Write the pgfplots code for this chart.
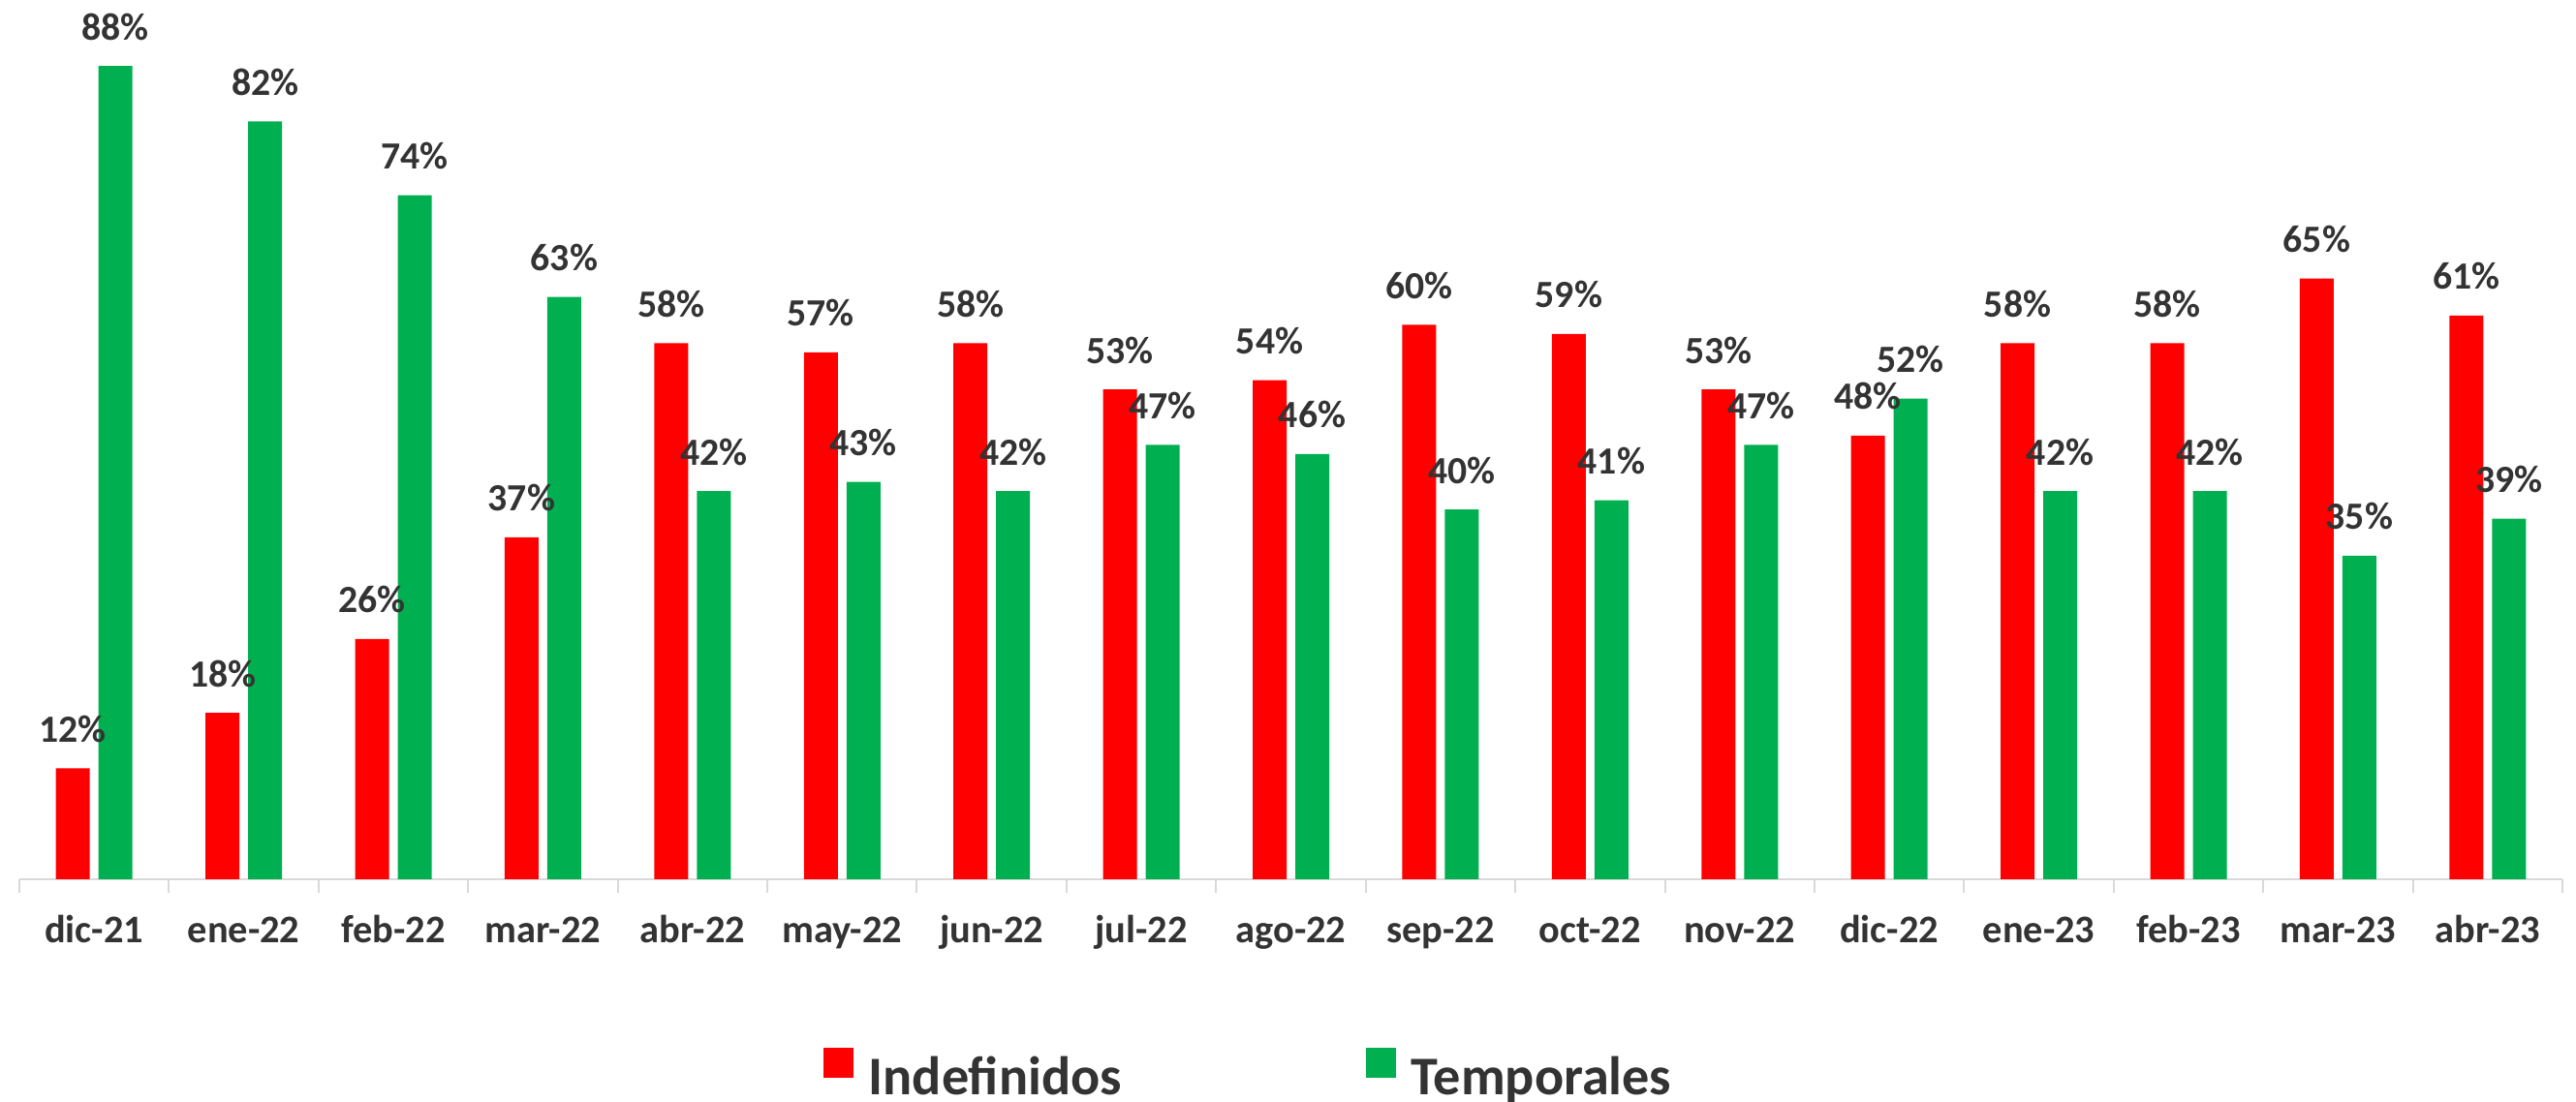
\documentclass[border=0pt]{standalone}
\usepackage{pgfplots}
\pgfplotsset{compat=1.18}
\usepackage{fontspec}
\setmainfont{Carlito}
\definecolor{myred}{HTML}{FF0000}
\definecolor{mygreen}{HTML}{00B050}
\definecolor{txt}{HTML}{333333}
\definecolor{axgray}{HTML}{D9D9D9}
\begin{document}
\begin{tikzpicture}
\begin{axis}[
  at={(0mm,0mm)}, anchor=south west,
  scale only axis, width=262.5mm, height=90.68mm,
  xmin=-0.5, xmax=16.5, ymin=0, ymax=95,
  clip=false,
  axis x line*=bottom, axis y line=none,
  x axis line style={draw=axgray, line width=0.2mm, -},
  ytick=\empty,
  xtick={0,...,16},
  xticklabels={dic-21,ene-22,feb-22,mar-22,abr-22,may-22,jun-22,jul-22,ago-22,sep-22,oct-22,nov-22,dic-22,ene-23,feb-23,mar-23,abr-23},
  major tick length=0pt,
  minor xtick={-0.5,0.5,...,16.5},
  minor tick length=1.4mm,
  tick align=outside,
  minor x tick style={draw=axgray, line width=0.2mm},
  xticklabel style={font=\fontsize{11.5}{13}\selectfont\bfseries, text=txt, anchor=base, yshift=-6.6mm},
  /pgf/number format/assume math mode=true,
  nodes near coords={\pgfmathprintnumber{\pgfplotspointmeta}\%},
  nodes near coords style={font=\fontsize{11.3}{13}\selectfont\bfseries, text=txt, anchor=base, yshift=2.7mm},
  legend columns=2,
  legend cell align=left,
  legend style={at={(0.3158,-0.2215)}, anchor=west, draw=none, fill=none, inner sep=0pt,
    nodes={inner sep=0pt, text=txt, font=\fontsize{16}{19}\selectfont\bfseries},
    /tikz/every odd column/.append style={column sep=1.6mm},
    /tikz/every even column/.append style={column sep=25.2mm}},
  legend image code/.code={\fill[#1] (0mm,0mm) rectangle (3.1mm,3.1mm);},
]
\addplot[ybar, bar width=3.5mm, bar shift=-2.2mm, fill=myred, draw=none,
  every node near coord/.append style={xshift=-2.2mm}] coordinates {
  (0,12) (1,18) (2,26) (3,37) (4,58) (5,57) (6,58) (7,53) (8,54) (9,60) (10,59) (11,53) (12,48) (13,58) (14,58) (15,65) (16,61)};
\addlegendentry{Indefinidos}
\addplot[ybar, bar width=3.5mm, bar shift=2.2mm, fill=mygreen, draw=none,
  every node near coord/.append style={xshift=2.2mm}] coordinates {
  (0,88) (1,82) (2,74) (3,63) (4,42) (5,43) (6,42) (7,47) (8,46) (9,40) (10,41) (11,47) (12,52) (13,42) (14,42) (15,35) (16,39)};
\addlegendentry{Temporales}
\end{axis}
\pgfresetboundingbox
\path[use as bounding box] (-2mm,-23mm) rectangle (263.9mm,90.8mm);
\end{tikzpicture}
\end{document}
